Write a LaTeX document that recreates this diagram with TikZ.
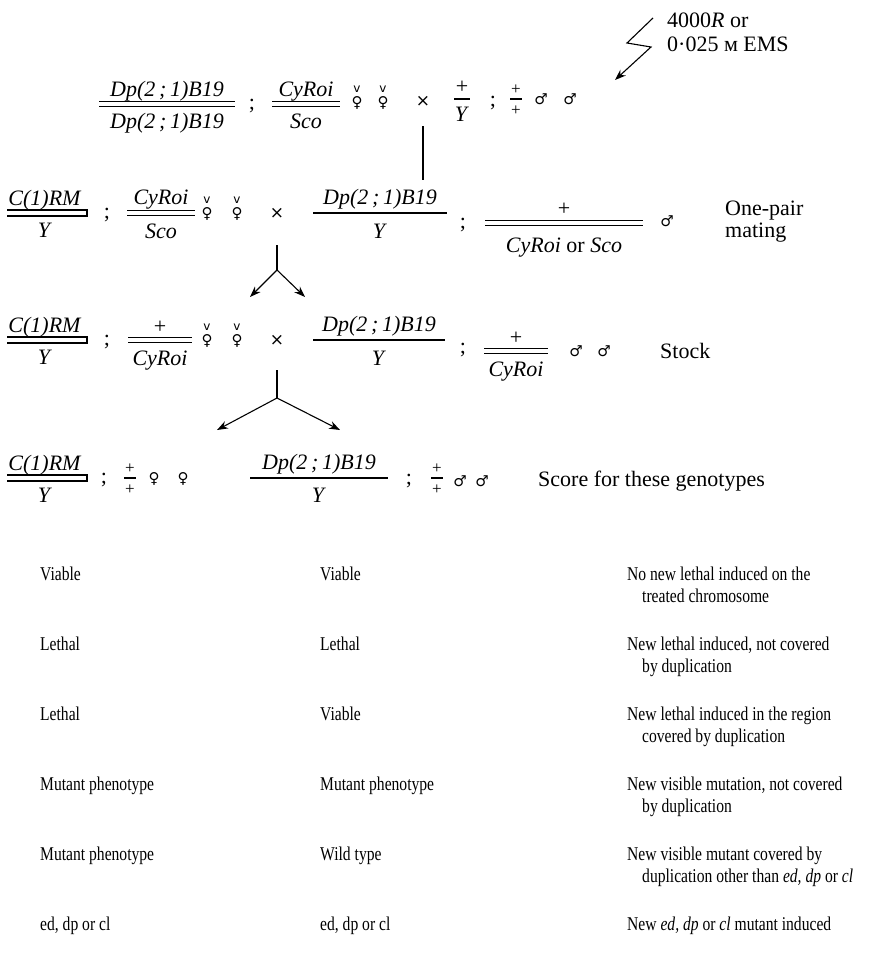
\documentclass[tikz,border=0pt]{standalone}
\usepackage{fontspec}
\setmainfont{Liberation Serif}
\newfontfamily\symf{DejaVu Sans}
\newfontfamily\tabf[FakeStretch=0.8]{Liberation Serif}
\usetikzlibrary{arrows.meta}
\tikzset{
  lab/.style={inner sep=0pt, anchor=base, font=\fontsize{22}{26}\selectfont},
  labw/.style={inner sep=0pt, anchor=base west, font=\fontsize{22}{26}\selectfont},
  pls/.style={inner sep=0pt, anchor=base, font=\fontsize{17}{20}\selectfont},
  tab/.style={inner sep=0pt, anchor=base west, font=\tabf\fontsize{19.5}{22}\selectfont},
  sym/.style={inner sep=0pt, font=\symf\fontsize{15}{16}\selectfont},
  vmk/.style={inner sep=0pt, font=\symf\fontsize{12}{13}\selectfont},
  crs/.style={inner sep=0pt, font=\symf\fontsize{17}{18}\selectfont},
  rl/.style={line width=1.1pt},
  arr/.style={line width=1.1pt, -{Stealth[length=11pt,width=8pt]}},
}
% single-line fraction: name, x, line y, half width, numerator, denominator, num base offset, den base offset
\newcommand{\frS}[8]{%
  \node[lab] (#1n) at (#2,#3-#7) {#5};
  \node[lab] (#1d) at (#2,#3+#8) {#6};
  \draw[rl] (#2-#4,#3) coordinate (#1a) -- (#2+#4,#3) coordinate (#1b);}
% double-line fraction
\newcommand{\frD}[8]{%
  \node[lab] (#1n) at (#2,#3-#7) {#5};
  \node[lab] (#1d) at (#2,#3+#8) {#6};
  \draw[rl] (#2-#4,#3-2.5) coordinate (#1a) -- (#2+#4,#3-2.5) coordinate (#1b);
  \draw[rl] (#2-#4,#3+2.5) coordinate (#1c) -- (#2+#4,#3+2.5) coordinate (#1e);}
% small plus over plus
\newcommand{\frP}[3]{%
  \node[pls] (#1n) at (#2,#3-5) {+};
  \node[pls] (#1d) at (#2,#3+16) {+};
  \draw[rl] (#2-6,#3) coordinate (#1a) -- (#2+6,#3) coordinate (#1b);}
% attached-X fraction C(1)RM / Y
\newcommand{\frX}[2]{%
  \node[lab] (#1n) at (45,#2-8) {\textit{C(1)RM}};
  \node[lab] (#1d) at (45,#2+24) {\textit{Y}};
  \draw[rl] (7,#2-3) coordinate (#1a) -- (87,#2-3) coordinate (#1b) -- (87,#2+3) coordinate (#1c) -- (7,#2+3) coordinate (#1e);}
\newcommand{\fem}[3]{%
  \node[vmk] (#1v) at (#2,#3-13) {v};
  \node[sym] (#1f) at (#2,#3+1) {♀};}
\begin{document}
\begin{tikzpicture}[x=1pt,y=-1pt]
\useasboundingbox (0,0) rectangle (880,959);

% ---- mutagen ----
\coordinate (z1) at (653,18);
\coordinate (z2) at (627,43);
\coordinate (z3) at (651,47);
\coordinate (z4) at (615,80);
\draw[arr] (z1) -- (z2) -- (z3) -- (z4);
\node[labw] (mut1) at (667,27) {4000\textit{R} or};
\node[labw] (mut2) at (667,51) {0·025 м EMS};

% ---- row 1 ----
\frD{aA}{167}{104}{68}{\textit{Dp(2\,;\,1)B19}}{\textit{Dp(2\,;\,1)B19}}{8}{24}
\node[lab] (aS1) at (252,109) {;};
\frD{aB}{306}{104}{34}{\textit{CyRoi}}{\textit{Sco}}{8}{24}
\fem{aF1}{357}{102}
\fem{aF2}{383}{102}
\node[crs] (aX) at (423,101) {×};
\frS{aC}{462}{99}{8}{+}{\textit{Y}}{6}{22}
\node[lab] (aS2) at (493,106) {;};
\frP{aP}{516}{99}
\node[sym] (aM1) at (541,99) {♂};
\node[sym] (aM2) at (570,99) {♂};
\coordinate (v1t) at (423,126);
\coordinate (v1b) at (423,180);
\draw[rl] (v1t) -- (v1b);

% ---- row 2 ----
\frX{bA}{213}
\node[lab] (bS1) at (107,218) {;};
\frD{bB}{161}{213}{34}{\textit{CyRoi}}{\textit{Sco}}{9}{25}
\fem{bF1}{207}{213}
\fem{bF2}{237}{213}
\node[crs] (bX) at (277,213) {×};
\frS{bC}{380}{213}{67}{\textit{Dp(2\,;\,1)B19}}{\textit{Y}}{9}{25}
\node[lab] (bS2) at (463,228) {;};
\frD{bD}{564}{223}{79}{+}{\textit{CyRoi} or \textit{Sco}}{8}{29}
\node[sym] (bM1) at (667,221) {♂};
\node[labw] (bT1) at (725,215) {One-pair};
\node[labw] (bT2) at (725,237) {mating};
\coordinate (s2t) at (277,245);
\coordinate (s2m) at (277,270);
\coordinate (s2l) at (250,297);
\coordinate (s2r) at (305,297);
\draw[rl] (s2t) -- (s2m);
\draw[arr] (s2m) -- (s2l);
\draw[arr] (s2m) -- (s2r);

% ---- row 3 ----
\frX{cA}{340}
\node[lab] (cS1) at (107,345) {;};
\frD{cB}{160}{340}{32}{+}{\textit{CyRoi}}{7}{25}
\fem{cF1}{207}{340}
\fem{cF2}{237}{340}
\node[crs] (cX) at (277,340) {×};
\frS{cC}{379}{340}{66}{\textit{Dp(2\,;\,1)B19}}{\textit{Y}}{9}{25}
\node[lab] (cS2) at (463,353) {;};
\frD{cD}{516}{351}{32}{+}{\textit{CyRoi}}{7}{25}
\node[sym] (cM1) at (576,351) {♂};
\node[sym] (cM2) at (604,351) {♂};
\node[labw] (cT) at (660,358) {Stock};
\coordinate (s3t) at (277,370);
\coordinate (s3m) at (277,398);
\coordinate (s3l) at (217,430);
\coordinate (s3r) at (340,430);
\draw[rl] (s3t) -- (s3m);
\draw[arr] (s3m) -- (s3l);
\draw[arr] (s3m) -- (s3r);

% ---- row 4 ----
\frX{dA}{478}
\node[lab] (dS1) at (104,483) {;};
\frP{dP1}{130}{478}
\node[sym] (dF1) at (154,479) {♀};
\node[sym] (dF2) at (183,479) {♀};
\frS{dC}{319}{478}{69}{\textit{Dp(2\,;\,1)B19}}{\textit{Y}}{9}{24}
\node[lab] (dS2) at (409,484) {;};
\frP{dP2}{437}{478}
\node[sym] (dM1) at (460,481) {♂};
\node[sym] (dM2) at (482,481) {♂};
\node[labw] (dT) at (538,486) {Score for these genotypes};

% ---- table ----
\node[tab] (t11) at (40,580) {Viable};
\node[tab] (t12) at (320,580) {Viable};
\node[tab] (t13) at (627,580) {No new lethal induced on the};
\node[tab] (t13b) at (642,602) {treated chromosome};

\node[tab] (t21) at (40,650) {Lethal};
\node[tab] (t22) at (320,650) {Lethal};
\node[tab] (t23) at (627,650) {New lethal induced, not covered};
\node[tab] (t23b) at (642,672) {by duplication};

\node[tab] (t31) at (40,720) {Lethal};
\node[tab] (t32) at (320,720) {Viable};
\node[tab] (t33) at (627,720) {New lethal induced in the region};
\node[tab] (t33b) at (642,742) {covered by duplication};

\node[tab] (t41) at (40,790) {Mutant phenotype};
\node[tab] (t42) at (320,790) {Mutant phenotype};
\node[tab] (t43) at (627,790) {New visible mutation, not covered};
\node[tab] (t43b) at (642,812) {by duplication};

\node[tab] (t51) at (40,860) {Mutant phenotype};
\node[tab] (t52) at (320,860) {Wild type};
\node[tab] (t53) at (627,860) {New visible mutant covered by};
\node[tab] (t53b) at (642,882) {duplication other than \textit{ed, dp} or \textit{cl}};

\node[tab] (t61) at (40,930) {ed, dp or cl};
\node[tab] (t62) at (320,930) {ed, dp or cl};
\node[tab] (t63) at (627,930) {New \textit{ed, dp} or \textit{cl} mutant induced};
\end{tikzpicture}
\end{document}
